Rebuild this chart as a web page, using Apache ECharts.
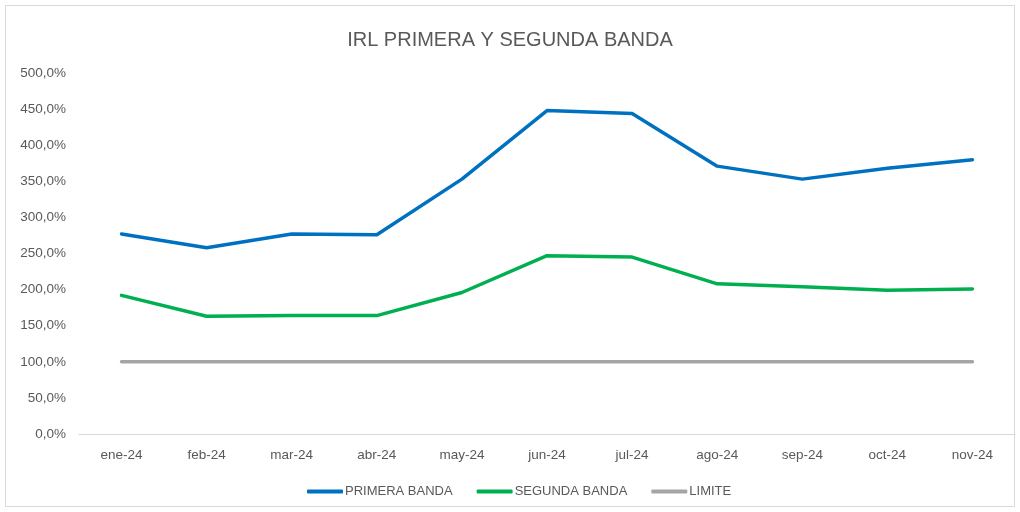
<!DOCTYPE html>
<html>
<head>
<meta charset="utf-8">
<script src="https://cdn.jsdelivr.net/npm/echarts@6/dist/echarts.min.js"></script>
<style>
  html, body { margin: 0; padding: 0; background: #fff; }
  #chart { width: 1020px; height: 512px; }
</style>
</head>
<body>
<div id="chart"></div>
<script>
// Monthly IRL ratios (%)
const months = ['ene-24', 'feb-24', 'mar-24', 'abr-24', 'may-24', 'jun-24', 'jul-24', 'ago-24', 'sep-24', 'oct-24', 'nov-24'];
const primeraBanda = [277, 258, 277, 276, 353, 448, 444, 371, 353, 368, 380];
const segundaBanda = [192, 163, 164, 164, 196, 247, 245, 208, 204, 199, 201];
const limite = [100, 100, 100, 100, 100, 100, 100, 100, 100, 100, 100];

const font = '"Liberation Sans", sans-serif';
const textColor = '#595959';

const chart = echarts.init(document.getElementById('chart'), null, { renderer: 'canvas' });

const fmtPct = v => v.toFixed(1).replace('.', ',') + '%';

chart.setOption({
  backgroundColor: '#ffffff',
  animation: false,
  graphic: [{
    type: 'rect',
    shape: { x: 5.5, y: 5.5, width: 1009, height: 501 },
    style: { fill: 'none', stroke: '#d9d9d9', lineWidth: 1 },
    silent: true
  }],
  title: {
    text: 'IRL PRIMERA Y SEGUNDA BANDA',
    left: 'center',
    top: 25,
    textStyle: { fontFamily: font, fontSize: 20, fontWeight: 'normal', color: textColor }
  },
  legend: {
    top: 480,
    left: 302,
    icon: 'roundRect',
    itemWidth: 36,
    itemHeight: 4,
    itemGap: 24,
    textStyle: { fontFamily: font, fontSize: 13, color: textColor, padding: [0, 0, 0, -3] },
    data: ['PRIMERA BANDA', 'SEGUNDA BANDA', 'LIMITE']
  },
  grid: { left: 79, right: 5, top: 73, bottom: 78, containLabel: false },
  xAxis: {
    type: 'category',
    data: months,
    boundaryGap: true,
    axisLine: { lineStyle: { color: '#d9d9d9', width: 1 } },
    axisTick: { show: false },
    axisLabel: { fontFamily: font, fontSize: 13.5, color: textColor, margin: 14 }
  },
  yAxis: {
    type: 'value',
    min: 0,
    max: 500,
    interval: 50,
    axisLine: { show: false },
    axisTick: { show: false },
    splitLine: { show: false },
    axisLabel: { fontFamily: font, fontSize: 13.5, color: textColor, margin: 13, formatter: fmtPct }
  },
  series: [
    {
      name: 'PRIMERA BANDA', type: 'line', data: primeraBanda,
      showSymbol: false, symbol: 'none',
      lineStyle: { color: '#0070c0', width: 3.5, cap: 'round', join: 'round' },
      itemStyle: { color: '#0070c0' }
    },
    {
      name: 'SEGUNDA BANDA', type: 'line', data: segundaBanda,
      showSymbol: false, symbol: 'none',
      lineStyle: { color: '#00b050', width: 3.5, cap: 'round', join: 'round' },
      itemStyle: { color: '#00b050' }
    },
    {
      name: 'LIMITE', type: 'line', data: limite,
      showSymbol: false, symbol: 'none',
      lineStyle: { color: '#a5a5a5', width: 3.5, cap: 'round', join: 'round' },
      itemStyle: { color: '#a5a5a5' }
    }
  ]
});
</script>
</body>
</html>
